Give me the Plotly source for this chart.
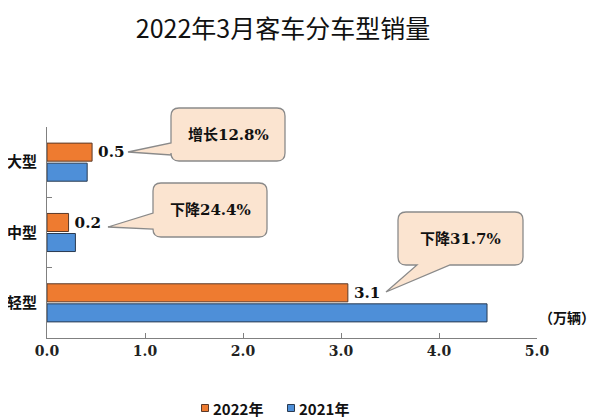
import plotly.graph_objects as go

# ---------------- data ----------------
categories = ['大型', '中型', '轻型']
sales_2022 = [0.46, 0.22, 3.07]
sales_2021 = [0.41, 0.29, 4.49]
series_names = ['2022年', '2021年']
change_labels = ['增长12.8%', '下降24.4%', '下降31.7%']
x_ticks = [0, 1, 2, 3, 4, 5]
title_text = '2022年3月客车分车型销量'
unit_text = '（万辆）'

# ---------------- geometry (pixels, page coordinates) ----------------
W, H = 600, 418
OFF = 8  # default page body margin
PL, PR, PT, PB = 47, 537, 127, 338  # plot area on the page
ML, MR, MT, MB = PL - OFF, W - (PR - OFF), PT - OFF, H - (PB - OFF)
PW, PH = PR - PL, PB - PT


def px(xp):
    return (xp - PL) / PW


def py(yp):
    return (PB - yp) / PH


def callout(x1, y1, x2, y2, r, side, a, b, tip):
    """rounded box with a tail; coords in page pixels -> paper path"""
    pts = []
    def M(x, y): pts.append(f"M{px(x):.5f},{py(y):.5f}")
    def L(x, y): pts.append(f"L{px(x):.5f},{py(y):.5f}")
    def Q(cx, cy, x, y): pts.append(f"Q{px(cx):.5f},{py(cy):.5f} {px(x):.5f},{py(y):.5f}")
    M(x1 + r, y1)
    L(x2 - r, y1)
    Q(x2, y1, x2, y1 + r)
    L(x2, y2 - r)
    Q(x2, y2, x2 - r, y2)
    if side == 'bottom':
        L(b, y2); L(*tip); L(a, y2)
    L(x1 + r, y2)
    Q(x1, y2, x1, y2 - r)
    if side == 'left':
        L(x1, b); L(*tip); L(x1, a)
    L(x1, y1 + r)
    Q(x1, y1, x1 + r, y1)
    pts.append('Z')
    return ' '.join(pts)


orange = '#EE7B30'
blue = '#4E8FD8'
orange_line = '#5a3a2a'
blue_line = '#2a3a50'

fig = go.Figure()
fig.add_bar(y=categories, x=sales_2022, orientation='h', name=series_names[0],
            marker=dict(color=orange, line=dict(color=orange_line, width=1)),
            texttemplate='\u2009%{x:.1f}', textposition='outside', cliponaxis=False,
            textfont=dict(family='DejaVu Serif', size=16, color='#111111', weight='bold'),
            showlegend=False)
fig.add_bar(y=categories, x=sales_2021, orientation='h', name=series_names[1],
            marker=dict(color=blue, line=dict(color=blue_line, width=1)),
            showlegend=False)

boxes = [
    dict(rect=(171, 108, 285, 161), side='left', a=143, b=155, tip=(128, 152)),
    dict(rect=(153, 183, 267, 237), side='left', a=213, b=229, tip=(108, 227)),
    dict(rect=(398, 212, 523, 265), side='bottom', a=417, b=450, tip=(386, 292)),
]
shapes = []
annotations = []
for bx, lab in zip(boxes, change_labels):
    x1, y1, x2, y2 = bx['rect']
    shapes.append(dict(type='path', xref='paper', yref='paper',
                       path=callout(x1, y1, x2, y2, 8, bx['side'], bx['a'], bx['b'], bx['tip']),
                       fillcolor='#FBE4D0', line=dict(color='#8a8a8a', width=1.3), layer='above'))
    annotations.append(dict(xref='paper', yref='paper', x=px((x1 + x2) / 2), y=py((y1 + y2) / 2),
                            text=lab, showarrow=False, xanchor='center', yanchor='middle',
                            font=dict(family='DejaVu Serif, Noto Sans CJK SC', size=15,
                                      color='#111111', weight='bold')))
annotations.append(dict(xref='paper', yref='paper', x=px(567), y=py(317), text=unit_text,
                        showarrow=False, xanchor='center', yanchor='middle',
                        font=dict(family='Noto Sans CJK SC', size=14, color='#111111', weight='bold')))

# legend (small squares + labels)
for nm, col, lc, sx in [(series_names[0], orange, orange_line, 205),
                        (series_names[1], blue, blue_line, 291)]:
    shapes.append(dict(type='rect', xref='paper', yref='paper',
                       x0=px(sx - 3.5), x1=px(sx + 3.5), y0=py(411.5), y1=py(404.5),
                       fillcolor=col, line=dict(color=lc, width=1)))
    annotations.append(dict(xref='paper', yref='paper', x=px(sx + 6), y=py(408), text=nm,
                            showarrow=False, xanchor='left', yanchor='middle',
                            font=dict(family='Noto Sans CJK SC', size=15, color='#111111',
                                      weight='bold')))

fig.update_layout(
    width=W, height=H,
    margin=dict(l=ML, r=MR, t=MT, b=MB, autoexpand=False),
    paper_bgcolor='white', plot_bgcolor='white',
    barmode='group', bargap=0.43, bargroupgap=0.1,
    showlegend=False,
    title=dict(text=title_text, x=(283 - OFF) / W, xref='container', xanchor='center',
               y=1 - (29 - OFF) / H, yref='container', yanchor='middle',
               font=dict(family='Noto Sans CJK SC', size=25, color='#111111')),
    xaxis=dict(range=[0, 5], tickvals=x_ticks, tickformat='.1f', ticks='inside', ticklen=5,
               tickcolor='#808080', showline=True, linecolor='#808080', linewidth=1,
               showgrid=False, zeroline=False, automargin=False,
               tickfont=dict(family='DejaVu Serif', size=14, color='#222222', weight='bold')),
    yaxis=dict(type='category', range=[2.5, -0.5], ticks='inside', tickson='boundaries', ticklen=5,
               tickcolor='#808080', showline=True, linecolor='#808080', linewidth=1,
               showgrid=False, zeroline=False, ticklabelstandoff=6, automargin=False,
               tickfont=dict(family='Noto Sans CJK SC', size=15, color='#111111', weight='bold')),
    shapes=shapes, annotations=annotations,
)

fig.write_html('out.html')
